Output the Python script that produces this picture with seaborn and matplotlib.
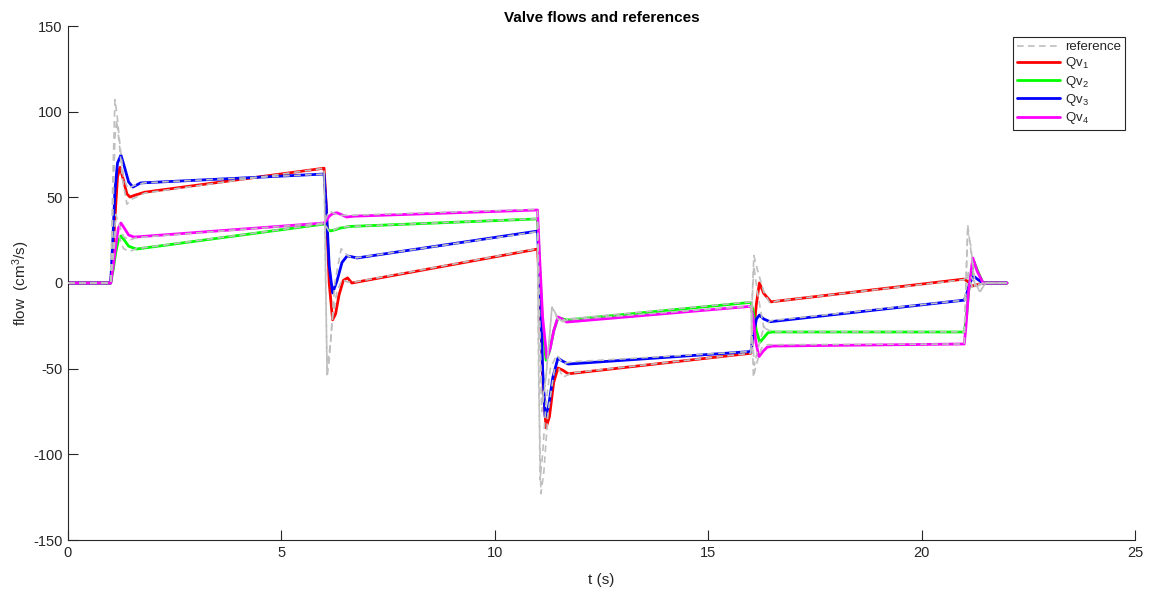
import numpy as np
import pandas as pd
import matplotlib
matplotlib.use("Agg")
import matplotlib.pyplot as plt
import seaborn as sns

# ---------------- data ----------------
t_qv1 = [0, 1.0, 1.05, 1.1, 1.16, 1.22, 1.3, 1.38, 1.45, 1.6, 1.8, 6.0, 6.05, 6.12, 6.2, 6.27, 6.35, 6.45, 6.55, 6.65,
         11.0, 11.05, 11.12, 11.2, 11.28, 11.38, 11.48, 11.6, 11.72, 16.0, 16.06, 16.13, 16.2, 16.3, 16.47,
         21.0, 21.1, 21.18, 21.3, 21.44, 22.0]
qv1 = [0, 0, 15, 38, 62, 67.5, 60, 52, 50.2, 51.5, 53, 67, 45, 0, -21.5, -18, -7, 1.5, 3, 0,
       19.8, 0, -55, -84.5, -78, -58, -49.6, -51, -53, -41, -30, -12, 0, -6, -11,
       2.3, 0.5, -1.8, -1, 0, 0]

t_qv2 = [0, 1.0, 1.06, 1.12, 1.18, 1.24, 1.32, 1.42, 1.6, 6.0, 6.05, 6.1, 6.15, 6.25, 6.37, 6.6,
         11.0, 11.05, 11.12, 11.2, 11.28, 11.38, 11.48, 11.6, 11.68, 16.0, 16.05, 16.13, 16.21, 16.3, 16.4, 16.5,
         21.0, 21.05, 21.12, 21.23, 21.33, 21.44, 22.0]
qv2 = [0, 0, 8, 18, 25, 27.4, 25, 21.5, 19.8, 34.4, 33.5, 31, 30.4, 31, 32, 33,
       37.4, 10, -25, -45, -40, -28, -20.4, -21, -21.6, -11.3, -16, -28, -34.6, -32, -29, -28.6,
       -28.6, -20, 0, 12.3, 6, 0, 0]

t_qv3 = [0, 1.0, 1.05, 1.1, 1.16, 1.24, 1.32, 1.42, 1.52, 1.7, 6.0, 6.05, 6.12, 6.2, 6.3, 6.42, 6.54, 6.65, 6.77,
         11.0, 11.05, 11.12, 11.18, 11.26, 11.36, 11.48, 11.58, 11.72, 16.0, 16.06, 16.13, 16.2, 16.3, 16.45,
         21.0, 21.06, 21.13, 21.22, 21.32, 21.44, 22.0]
qv3 = [0, 0, 25, 54, 70, 74.7, 68, 59, 56, 58.4, 63.6, 45, 10, -5.8, 1, 12, 15.8, 15.3, 14.6,
       30.3, 5, -50, -78, -72, -55, -43.8, -45.5, -47.3, -40, -30, -21, -18.7, -21, -22.6,
       -10, -6, 0, 4, 2, 0, 0]

t_qv4 = [0, 1.0, 1.06, 1.12, 1.18, 1.24, 1.32, 1.42, 1.55, 6.0, 6.05, 6.12, 6.2, 6.3, 6.4, 6.53, 6.7,
         11.0, 11.05, 11.12, 11.22, 11.3, 11.38, 11.48, 11.58, 11.68, 16.0, 16.05, 16.12, 16.19, 16.28, 16.38, 16.5,
         21.0, 21.04, 21.1, 21.2, 21.3, 21.44, 22.0]
qv4 = [0, 0, 10, 22, 32, 35, 32, 28, 26.8, 35, 36.5, 39, 40.5, 41, 40, 38.5, 39,
       42.6, 15, -20, -43.8, -38, -28, -19.8, -21, -22.8, -13.6, -20, -35, -43, -40, -37.5, -36.8,
       -35.6, -25, -5, 14.6, 7, 0, 0]

t_ref1 = [0, 1.0, 1.05, 1.1, 1.14, 1.2, 1.28, 1.38, 1.5, 1.8, 6.0, 6.03, 6.07, 6.12, 6.2, 6.3, 6.42, 6.55, 6.7,
          11.0, 11.03, 11.08, 11.15, 11.25, 11.4, 11.5, 11.6, 11.8, 16.0, 16.03, 16.07, 16.15, 16.3, 16.45, 16.6,
          21.0, 21.05, 21.1, 21.2, 21.3, 21.45, 22.0]
ref1 = [0, 0, 40, 85, 95, 82, 60, 46, 49, 52.5, 67, 20, -55, -45, -20, -5, 2, 0.5, 0.5,
        20, -60, -123, -110, -75, -50, -50, -55, -52.5, -41, -10, 16, 8, -5, -12, -10.5,
        2, 6, 3, -3, -2, 0, 0]

t_ref2 = [0, 1.0, 1.06, 1.12, 1.2, 1.3, 1.45, 1.6, 6.0, 6.05, 6.12, 6.2, 6.35, 6.6,
          11.0, 11.04, 11.1, 11.2, 11.34, 11.45, 11.55, 11.7, 16.0, 16.03, 16.08, 16.15, 16.3, 16.45, 16.6,
          21.0, 21.04, 21.08, 21.15, 21.25, 21.37, 21.5, 22.0]
ref2 = [0, 0, 15, 30, 27, 20, 18.5, 20, 34.5, 33, 30, 30.5, 32.5, 33,
        37.5, -20, -75, -55, -14, -19, -22, -21, -11, -30, -48, -40, -26, -28, -28.5,
        -28.5, 0, 34, 20, -2, -5, 0, 0]

t_ref3 = [0, 1.0, 1.05, 1.1, 1.15, 1.22, 1.3, 1.4, 1.55, 1.8, 6.0, 6.03, 6.07, 6.15, 6.25, 6.4, 6.55, 6.7,
          11.0, 11.03, 11.06, 11.12, 11.2, 11.3, 11.45, 11.6, 11.8, 16.0, 16.03, 16.07, 16.15, 16.3, 16.45,
          21.0, 21.05, 21.1, 21.2, 21.3, 21.45, 22.0]
ref3 = [0, 0, 60, 107, 98, 80, 62, 55, 57, 58.5, 63.6, 10, -50, -35, 0, 20, 16, 14.5,
        30, -40, -115, -100, -70, -50, -42, -47, -46, -40, -10, 10, -5, -26, -22,
        -10, -2, 6, 2, -1, 0, 0]

t_ref4 = [0, 1.0, 1.06, 1.12, 1.2, 1.3, 1.45, 1.6, 6.0, 6.05, 6.12, 6.2, 6.35, 6.6,
          11.0, 11.04, 11.1, 11.2, 11.34, 11.45, 11.55, 11.7, 16.0, 16.03, 16.06, 16.12, 16.25, 16.4, 16.6,
          21.0, 21.04, 21.08, 21.15, 21.25, 21.37, 21.5, 22.0]
ref4 = [0, 0, 20, 40, 34, 27, 25, 26.5, 35, 38, 42, 41, 39.5, 39.5,
        43, -10, -70, -55, -14, -20, -23, -21.5, -13.5, -30, -55, -48, -38, -36, -36,
        -35.6, 0, 30, 22, 0, -5, 0, 0]

labels = [r"Qv$_{\mathregular{1}}$", r"Qv$_{\mathregular{2}}$",
          r"Qv$_{\mathregular{3}}$", r"Qv$_{\mathregular{4}}$"]
colors = ["#ff0000", "#00ff00", "#0000ff", "#ff00ff"]

# ---------------- style ----------------
sns.set_theme(style="ticks")
plt.rcParams["font.family"] = ["Liberation Sans", "DejaVu Sans"]
plt.rcParams["mathtext.fontset"] = "custom"
plt.rcParams["mathtext.rm"] = "Liberation Sans"
plt.rcParams["mathtext.it"] = "Liberation Sans"
plt.rcParams["axes.unicode_minus"] = False
axc = "#262626"

fig = plt.figure(figsize=(11.51, 5.89), dpi=100)
ax = fig.add_axes([68 / 1151, 1 - 540 / 589, (1135 - 68) / 1151, (540 - 26) / 589])

qvs = [(t_qv1, qv1), (t_qv2, qv2), (t_qv3, qv3), (t_qv4, qv4)]
refs = [(t_ref1, ref1), (t_ref2, ref2), (t_ref3, ref3), (t_ref4, ref4)]

qv_handles = []
for (tt, vv), lab, col in zip(qvs, labels, colors):
    sns.lineplot(x=tt, y=vv, ax=ax, color=col, linewidth=2.0, sort=False,
                 estimator=None, label=lab, zorder=2)
    qv_handles.append(ax.lines[-1])

ref_handle = None
for i, (tt, vv) in enumerate(refs):
    sns.lineplot(x=tt, y=vv, ax=ax, color="#bfbfbf", linewidth=1.2, sort=False,
                 estimator=None, label="reference" if i == 0 else None, zorder=3)
    ln = ax.lines[-1]
    ln.set_linestyle((0, (4.0, 2.6)))
    if i == 0:
        ref_handle = ln

ax.set_xlim(0, 25)
ax.set_ylim(-150, 150)
ax.set_xticks([0, 5, 10, 15, 20, 25])
ax.set_yticks([-150, -100, -50, 0, 50, 100, 150])
ax.tick_params(direction="in", length=7, width=0.8, colors=axc, labelsize=10.5, pad=4)
for s in ["top", "right"]:
    ax.spines[s].set_visible(False)
for s in ["left", "bottom"]:
    ax.spines[s].set_color(axc)
    ax.spines[s].set_linewidth(0.8)

ax.set_title("Valve flows and references", fontsize=11, fontweight="bold", color="black", pad=3)
ax.set_xlabel("t (s)", fontsize=11, color=axc, labelpad=10)
ax.set_ylabel(r"flow  (cm$^{\mathregular{3}}$/s)", fontsize=11, color=axc, labelpad=1)

handles = [ref_handle] + qv_handles
leg = ax.legend(handles, ["reference"] + labels, loc="upper right",
                bbox_to_anchor=(0.9906, 0.9786), borderaxespad=0, fancybox=False,
                framealpha=1, edgecolor="#262626", fontsize=9.5, handlelength=3.3,
                handletextpad=0.35, labelspacing=0.17, borderpad=0.3)
leg.get_frame().set_linewidth(0.8)

fig.savefig("out.png", dpi=100)
